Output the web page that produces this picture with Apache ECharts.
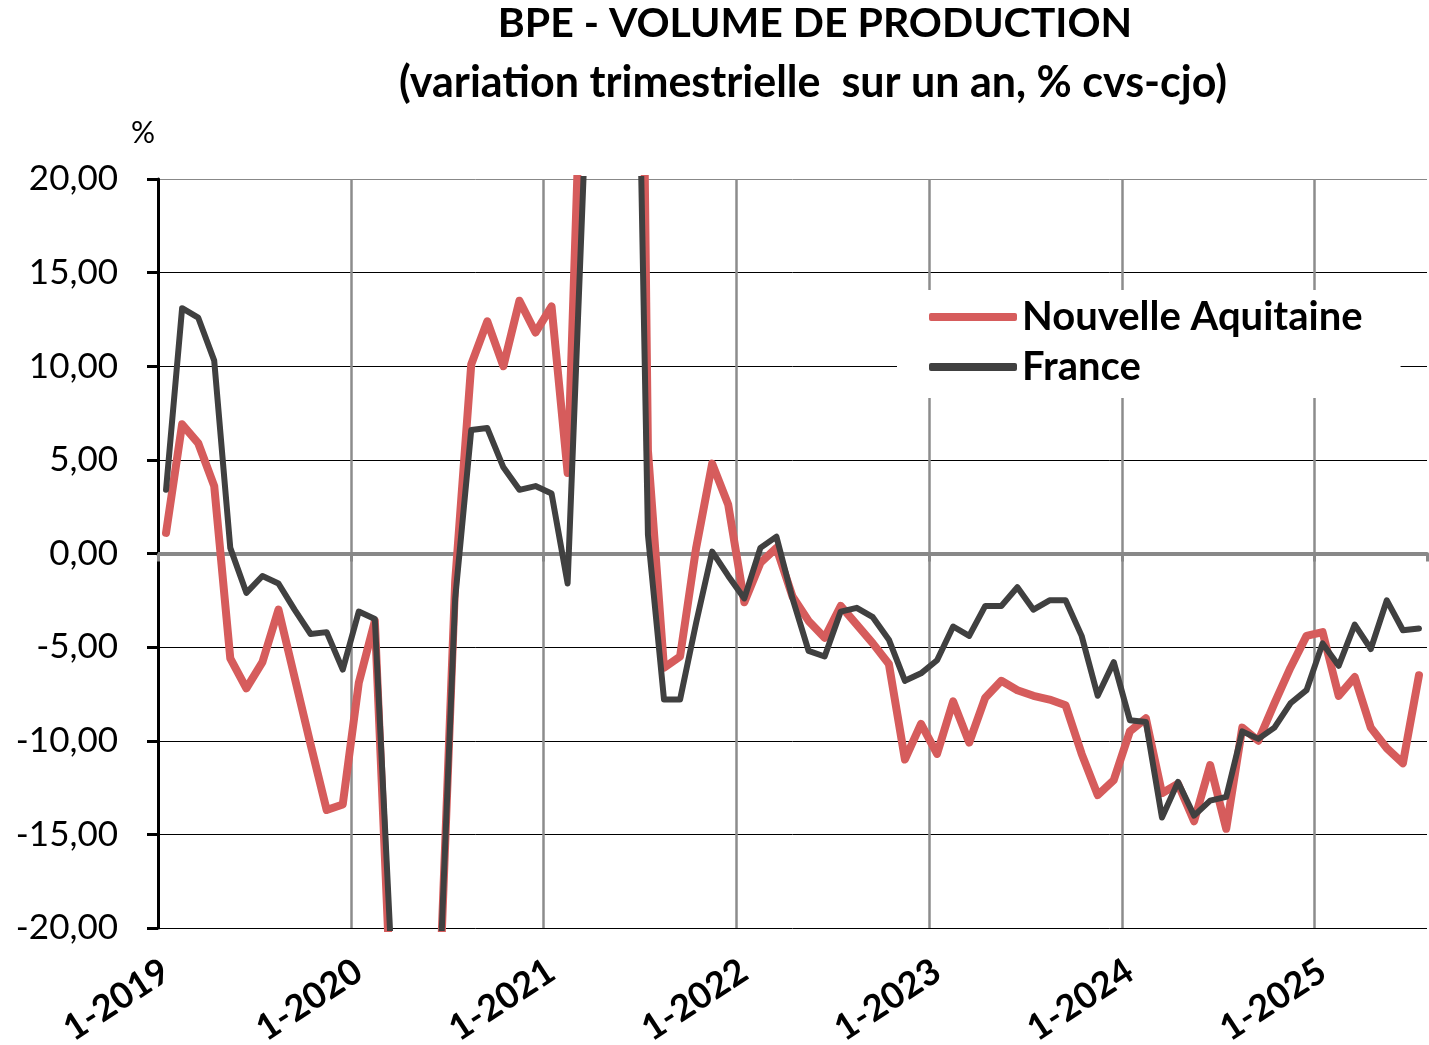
<!DOCTYPE html>
<html>
<head>
<meta charset="utf-8">
<title>BPE - Volume de production</title>
<script src="https://cdn.jsdelivr.net/npm/echarts@6.0.0/dist/echarts.min.js"></script>
<style>
  html, body { margin: 0; padding: 0; background: #fff; }
  #main { width: 1429px; height: 1045px; }
</style>
</head>
<body>
<div id="main"></div>
<script>
// mois de 1-2019 a 7-2025
var firstYear = 2019;
var lastYear = 2025;
var lastMonth = 7;

var yTicks = [-20, -15, -10, -5, 0, 5, 10, 15, 20];

var nouvelleAquitaine = [
    1.1, 6.9, 5.9, 3.6, -5.6, -7.2, -5.8, -3.0, -6.6, -10.2, -13.7, -13.4,
    -6.9, -3.6, -23.8, -42, -38, -24.0, -1.5, 10.1, 12.4, 10.0, 13.5, 11.8,
    13.2, 4.3, 30.5, 80, 75, 80, 5.5, -6.1, -5.5, 0.3, 4.8, 2.6,
    -2.6, -0.5, 0.3, -2.3, -3.6, -4.5, -2.8, -3.8, -4.8, -5.9, -11.0, -9.1,
    -10.7, -7.9, -10.1, -7.7, -6.8, -7.3, -7.6, -7.8, -8.1, -10.7, -12.9, -12.1,
    -9.5, -8.8, -12.8, -12.3, -14.3, -11.3, -14.7, -9.3, -10.0, -8.0, -6.1, -4.4,
    -4.2, -7.6, -6.6, -9.3, -10.4, -11.2, -6.5
];

var france = [
    3.4, 13.1, 12.6, 10.3, 0.3, -2.1, -1.2, -1.6, -3.0, -4.3, -4.2, -6.2,
    -3.1, -3.5, -21.1, -40, -36, -23.6, -2.4, 6.6, 6.7, 4.6, 3.4, 3.6,
    3.2, -1.6, 20.3, 70, 60, 47, 1.0, -7.8, -7.8, -3.7, 0.1, -1.2,
    -2.4, 0.3, 0.9, -2.4, -5.2, -5.5, -3.1, -2.9, -3.4, -4.6, -6.8, -6.4,
    -5.7, -3.9, -4.4, -2.8, -2.8, -1.8, -3.0, -2.5, -2.5, -4.4, -7.6, -5.8,
    -8.9, -9.0, -14.1, -12.2, -14.0, -13.2, -13.0, -9.5, -9.9, -9.3, -8.0, -7.3,
    -4.8, -6.0, -3.8, -5.1, -2.5, -4.1, -4.0
];

var months = [];
for (var y = firstYear; y <= lastYear; y++) {
    for (var m = 1; m <= 12; m++) {
        if (y === lastYear && m > lastMonth) break;
        months.push(m + '-' + y);
    }
}

var font = 'Lato';
var isYearStart = function (index) { return index % 12 === 0; };

var myChart = echarts.init(document.getElementById('main'));
var option = {
    animation: false,
    textStyle: { fontFamily: font },
    graphic: [
        { type: 'text', x: 815, y: 24, style: { text: 'BPE - VOLUME DE PRODUCTION', font: 'bold 41px ' + font, fill: '#000', textAlign: 'center', textVerticalAlign: 'middle' } },
        { type: 'text', x: 813, y: 83, style: { text: '(variation trimestrielle  sur un an, % cvs-cjo)', font: 'bold 43px ' + font, fill: '#000', textAlign: 'center', textVerticalAlign: 'middle' } },
        { type: 'text', x: 143, y: 133, style: { text: '%', font: '30px ' + font, fill: '#000', textAlign: 'center', textVerticalAlign: 'middle' } }
    ],
    legend: {
        orient: 'vertical',
        left: 897,
        top: 290,
        backgroundColor: '#fff',
        padding: [7, 38, 11, 32],
        itemWidth: 88,
        itemHeight: 8,
        itemGap: 10,
        icon: 'roundRect',
        textStyle: { fontSize: 40, fontWeight: 'bold', color: '#000', lineHeight: 40 },
        data: ['Nouvelle Aquitaine', 'France']
    },
    grid: { left: 158, right: 2, top: 179, bottom: 117, outerBoundsMode: 'none' },
    xAxis: [{
        type: 'category',
        data: months,
        boundaryGap: true,
        axisLine: { onZero: true, lineStyle: { color: '#888', width: 4 } },
        axisTick: { show: true, interval: isYearStart, length: 8, lineStyle: { color: '#888', width: 3 } },
        axisLabel: { show: false },
        splitLine: { show: true, showMaxLine: false, interval: isYearStart, lineStyle: { color: '#8c8c8c', width: 2.5 } }
    }, {
        type: 'category',
        data: months,
        position: 'bottom',
        boundaryGap: true,
        axisLine: { show: false, onZero: false },
        axisTick: { show: false },
        splitLine: { show: false },
        axisLabel: {
            interval: isYearStart,
            rotate: 33,
            margin: 40,
            fontSize: 36,
            fontWeight: 'bold',
            color: '#000'
        }
    }],
    yAxis: {
        type: 'value',
        min: yTicks[0],
        max: yTicks[yTicks.length - 1],
        interval: 5,
        axisLine: { show: true, lineStyle: { color: '#000', width: 3 } },
        axisTick: { show: true, length: 11, lineStyle: { color: '#000', width: 3 } },
        axisLabel: {
            margin: 40,
            fontSize: 35,
            color: '#000',
            formatter: function (v) { return v.toFixed(2).replace('.', ','); }
        },
        splitLine: { lineStyle: { color: ['#000', '#000', '#000', '#000', '#000', '#000', '#000', '#000', '#888'], width: 1 } }
    },
    series: [{
        name: 'Nouvelle Aquitaine',
        type: 'line',
        data: nouvelleAquitaine,
        color: '#d65c5c',
        symbol: 'none',
        lineStyle: { width: 8, join: 'round', cap: 'round' }
    }, {
        name: 'France',
        type: 'line',
        data: france,
        color: '#404040',
        symbol: 'none',
        lineStyle: { width: 6, join: 'round', cap: 'round' }
    }]
};
myChart.setOption(option);
</script>
</body>
</html>
